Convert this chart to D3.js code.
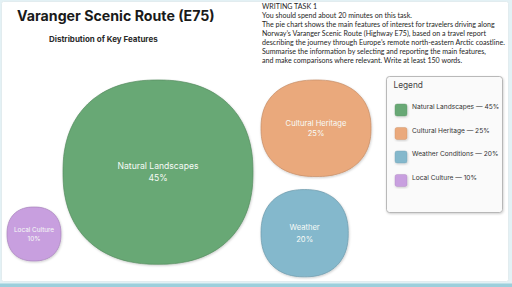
<!DOCTYPE html>
<html>
<head>
<meta charset="utf-8">
<script src="https://cdn.jsdelivr.net/npm/d3@7"></script>
<style>
	html,body{margin:0;padding:0;background:#ffffff;}
	svg{display:block;}
</style>
</head>
<body>
<div id="idChart"></div>
<script>
var aCategories=["Natural Landscapes","Cultural Heritage","Weather Conditions","Local Culture"];
var aShortLabels=["Natural Landscapes","Cultural Heritage","Weather","Local Culture"];
var aValues=[45,25,20,10];
var aColors=["#68a874","#eaa97b","#84b8cc","#c89fdf"];
var aTaskLines=[
	"WRITING TASK 1",
	"You should spend about 20 minutes on this task.",
	"The pie chart shows the main features of interest for travelers driving along",
	"Norway\u2019s Varanger Scenic Route (Highway E75), based on a travel report",
	"describing the journey through Europe\u2019s remote north-eastern Arctic coastline.",
	"Summarise the information by selecting and reporting the main features,",
	"and make comparisons where relevant. Write at least 150 words."
];

var iWidth=512;
var iHeight=287;

var myCanvas=d3.select("#idChart").append("svg")
	.attr("width",iWidth)
	.attr("height",iHeight);

var myDefs=myCanvas.append("defs");
var myShadow=myDefs.append("filter").attr("id","idShadow")
	.attr("x","-10%").attr("y","-10%").attr("width","130%").attr("height","130%");
myShadow.append("feDropShadow")
	.attr("dx",0.6).attr("dy",1).attr("stdDeviation",0.8)
	.attr("flood-color","#000").attr("flood-opacity",0.2);

// frame
myCanvas.append("rect").attr("width",iWidth).attr("height",iHeight).attr("fill","#e3f1f5");
myCanvas.append("rect")
	.attr("x",1.5).attr("y",1.5).attr("width",507).attr("height",280).attr("rx",2)
	.attr("fill","#ffffff").attr("stroke","#e2ecef").attr("stroke-width",1);
myCanvas.append("rect").attr("x",0).attr("y",283.5).attr("width",iWidth).attr("height",3.5).attr("fill","#9ccfdc");

// titles
myCanvas.append("text")
	.attr("x",17).attr("y",21)
	.attr("font-family","Inter, 'DejaVu Sans', sans-serif")
	.attr("font-weight",700).attr("font-size",14.2).attr("fill","#1a1a1a")
	.text("Varanger Scenic Route (E75)");

myCanvas.append("text")
	.attr("x",49).attr("y",42.2)
	.attr("font-family","Inter, 'DejaVu Sans', sans-serif")
	.attr("font-weight",700).attr("font-size",8).attr("fill","#2a2a2a")
	.text("Distribution of Key Features");

// writing task (narrow humanist face imitated by squeezing Lato)
var myTask=myCanvas.append("g").attr("class","TaskText");
var myTaskLines=myTask.selectAll("text").data(aTaskLines).enter().append("text")
	.attr("x",0)
	.attr("y",function(sLine,i){return 9.4+i*9;})
	.attr("font-family","Lato, 'Open Sans', sans-serif")
	.attr("font-size",7.4).attr("fill","#1e1e1e")
	.text(function(sLine){return sLine;});
var iLongest=d3.max(myTaskLines.nodes(),function(myNode){return myNode.getComputedTextLength();});
myTask.attr("transform","translate(262,0) scale("+(243/iLongest)+",1)");

// blobs
var rScale=d3.scaleLinear().domain([10,45]).range([27,95]);

function BlobPath(rx,ry)
{
	var n=2.3;
	var aPts=d3.range(0,72).map(function(k){
		var t=k/72*2*Math.PI;
		var c=Math.cos(t), s=Math.sin(t);
		return [rx*Math.sign(c)*Math.pow(Math.abs(c),2/n), ry*Math.sign(s)*Math.pow(Math.abs(s),2/n)];
	});
	return d3.line().curve(d3.curveCardinalClosed)(aPts);
}

var aXScale=[1.0,0.98,0.94,1.0];
var aYScale=[0.97,0.86,0.94,1.0];
var aR=aValues.map(function(v){return rScale(v);});
// layout: local culture | natural landscapes | (cultural heritage over weather)
var iLeft=7;
var aLayout=[];
aLayout[3]={cx:iLeft+aR[3],cy:234};
aLayout[0]={cx:aLayout[3].cx+aR[3]+2+aR[0],cy:80+aR[0]*aYScale[0]};
var iColLeft=aLayout[0].cx+aR[0]+8;
aLayout[1]={cx:iColLeft+aR[1]*aXScale[1],cy:80+aR[1]*aYScale[1]};
aLayout[2]={cx:iColLeft+aR[2]*aXScale[2],cy:aLayout[1].cy+aR[1]*aYScale[1]+13+aR[2]*aYScale[2]};

var aLabelSize=[8.6,7.6,7.6,6.4];
var aLineGap=[12,10.8,11.5,9];

var myBlobs=myCanvas.selectAll(".Blob").data(aValues).enter().append("g")
	.attr("class","Blob")
	.attr("transform",function(v,i){return "translate("+aLayout[i].cx+","+aLayout[i].cy+")";});

myBlobs.append("path")
	.attr("d",function(v,i){return BlobPath(aR[i]*aXScale[i],aR[i]*aYScale[i]);})
	.attr("fill",function(v,i){return aColors[i];})
	.attr("stroke",function(v,i){return d3.color(aColors[i]).darker(0.5);})
	.attr("stroke-width",0.7)
	.attr("filter","url(#idShadow)");

myBlobs.append("text")
	.attr("text-anchor","middle")
	.attr("y",function(v,i){return -aLineGap[i]/2+aLabelSize[i]*0.36;})
	.attr("font-family","Inter, 'DejaVu Sans', sans-serif")
	.attr("font-size",function(v,i){return aLabelSize[i];})
	.attr("fill","#f7fbf7")
	.text(function(v,i){return aShortLabels[i];});

myBlobs.append("text")
	.attr("text-anchor","middle")
	.attr("y",function(v,i){return aLineGap[i]/2+aLabelSize[i]*0.36;})
	.attr("font-family","Inter, 'DejaVu Sans', sans-serif")
	.attr("font-size",function(v,i){return aLabelSize[i];})
	.attr("fill","#f7fbf7")
	.text(function(v){return v+"%";});

// legend
var myLegend=myCanvas.append("g").attr("transform","translate(386.5,76.5)");
myLegend.append("rect")
	.attr("width",116).attr("height",136).attr("rx",3)
	.attr("fill","#fafafa").attr("stroke","#a9a9a9").attr("stroke-width",0.8)
	.attr("filter","url(#idShadow)");
myLegend.append("text")
	.attr("x",7).attr("y",11.8)
	.attr("font-family","Inter, 'DejaVu Sans', sans-serif")
	.attr("font-size",8.3).attr("fill","#444")
	.text("Legend");

var yLegend=d3.scalePoint().domain(aCategories).range([27.5,98]);

var myItems=myLegend.selectAll(".LegendItem").data(aCategories).enter().append("g")
	.attr("class","LegendItem")
	.attr("transform",function(sCat){return "translate(8.5,"+yLegend(sCat)+")";});

myItems.append("rect")
	.attr("width",12).attr("height",12).attr("rx",2)
	.attr("fill",function(sCat,i){return aColors[i];})
	.attr("stroke",function(sCat,i){return d3.color(aColors[i]).darker(0.4);})
	.attr("stroke-width",0.4)
	.attr("filter","url(#idShadow)");

myItems.append("text")
	.attr("x",17).attr("y",5.3)
	.attr("font-family","Inter, 'DejaVu Sans', sans-serif")
	.attr("font-size",6.6).attr("fill","#333")
	.text(function(sCat,i){return sCat+" \u2014 "+aValues[i]+"%";});
</script>
</body>
</html>
